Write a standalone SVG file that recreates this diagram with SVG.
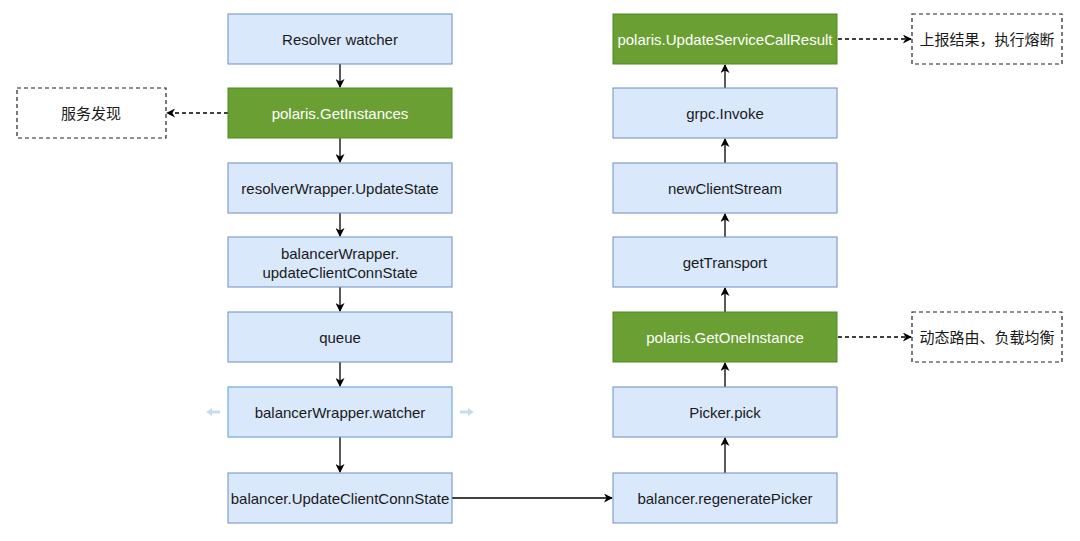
<svg xmlns="http://www.w3.org/2000/svg" width="1080" height="541" viewBox="0 0 1080 541">
<style>
.b{fill:#dae8fc;stroke:#6c8ebf;stroke-width:1}
.g{fill:#6a9f33;stroke:#4f8a1c;stroke-width:1}
.d{fill:#fff;stroke:#222;stroke-width:1.2;stroke-dasharray:4,3}
text{font-family:"Liberation Sans",Arial,"Noto Sans CJK SC",sans-serif;font-size:15px;fill:#1a1a1a;text-anchor:middle;dominant-baseline:central}
.w{fill:#fff}
.c{stroke:#000;stroke-width:1.3;fill:none}
.cd{stroke:#000;stroke-width:1.3;fill:none;stroke-dasharray:4,3}
</style>
<defs>
<marker id="a" viewBox="0 0 10 10" refX="9" refY="5" markerWidth="10" markerHeight="9" orient="auto" markerUnits="userSpaceOnUse"><path d="M0,0 L10,5 L0,10 L3,5 Z" fill="#000"/></marker>
</defs>
<rect width="1080" height="541" fill="#fff"/>
<g id="connectors">
<path class="c" d="M340,64 V87" marker-end="url(#a)"/>
<path class="c" d="M340,138 V162" marker-end="url(#a)"/>
<path class="c" d="M340,213 V236" marker-end="url(#a)"/>
<path class="c" d="M340,287 V311" marker-end="url(#a)"/>
<path class="c" d="M340,362 V386" marker-end="url(#a)"/>
<path class="c" d="M340,437 V472" marker-end="url(#a)"/>
<path class="c" d="M452,498 H612" marker-end="url(#a)"/>
<path class="c" d="M725,473 V438" marker-end="url(#a)"/>
<path class="c" d="M725,387 V363" marker-end="url(#a)"/>
<path class="c" d="M725,312 V288" marker-end="url(#a)"/>
<path class="c" d="M725,237 V214" marker-end="url(#a)"/>
<path class="c" d="M725,163 V139" marker-end="url(#a)"/>
<path class="c" d="M725,88 V65" marker-end="url(#a)"/>
<path class="cd" d="M228,113 H167" marker-end="url(#a)"/>
<path class="cd" d="M838,39 H911" marker-end="url(#a)"/>
<path class="cd" d="M838,337 H911" marker-end="url(#a)"/>
</g>
<g id="n1"><rect class="b" x="228" y="14" width="224" height="50"/><text x="340" y="39">Resolver watcher</text></g>
<g id="n2"><rect class="g" x="228" y="88" width="224" height="50"/><text class="w" x="340" y="113">polaris.GetInstances</text></g>
<g id="n3"><rect class="b" x="228" y="163" width="224" height="50"/><text x="340" y="188">resolverWrapper.UpdateState</text></g>
<g id="n4"><rect class="b" x="228" y="237" width="224" height="50"/><text x="340" y="253">balancerWrapper.</text><text x="340" y="272">updateClientConnState</text></g>
<g id="n5"><rect class="b" x="228" y="312" width="224" height="50"/><text x="340" y="337">queue</text></g>
<g id="n6"><rect class="b" x="228" y="387" width="224" height="50" style="stroke:#5b9bd5"/>
<g fill="#c6dcf3" stroke="none"><path d="M206,412 l6,-4 v2.5 h8 v3 h-8 v2.5 z"/><path d="M474,412 l-6,-4 v2.5 h-8 v3 h8 v2.5 z"/></g>
<text x="340" y="412">balancerWrapper.watcher</text></g>
<g id="n7"><rect class="b" x="228" y="473" width="224" height="50"/><text x="340" y="498">balancer.UpdateClientConnState</text></g>
<g id="n8"><rect class="g" x="613" y="14" width="224" height="50"/><text class="w" x="725" y="39">polaris.UpdateServiceCallResult</text></g>
<g id="n9"><rect class="b" x="613" y="88" width="224" height="50"/><text x="725" y="113">grpc.Invoke</text></g>
<g id="n10"><rect class="b" x="613" y="163" width="224" height="50"/><text x="725" y="188">newClientStream</text></g>
<g id="n11"><rect class="b" x="613" y="237" width="224" height="50"/><text x="725" y="262">getTransport</text></g>
<g id="n12"><rect class="g" x="613" y="312" width="224" height="50"/><text class="w" x="725" y="337">polaris.GetOneInstance</text></g>
<g id="n13"><rect class="b" x="613" y="387" width="224" height="50"/><text x="725" y="412">Picker.pick</text></g>
<g id="n14"><rect class="b" x="613" y="473" width="224" height="50"/><text x="725" y="498">balancer.regeneratePicker</text></g>
<g id="d1"><rect class="d" x="17" y="88" width="149" height="50"/><text x="91" y="113">服务发现</text></g>
<g id="d2"><rect class="d" x="912" y="14" width="150" height="50"/><text x="987" y="39">上报结果，执行熔断</text></g>
<g id="d3"><rect class="d" x="912" y="312" width="150" height="50"/><text x="987" y="337">动态路由、负载均衡</text></g>
</svg>
